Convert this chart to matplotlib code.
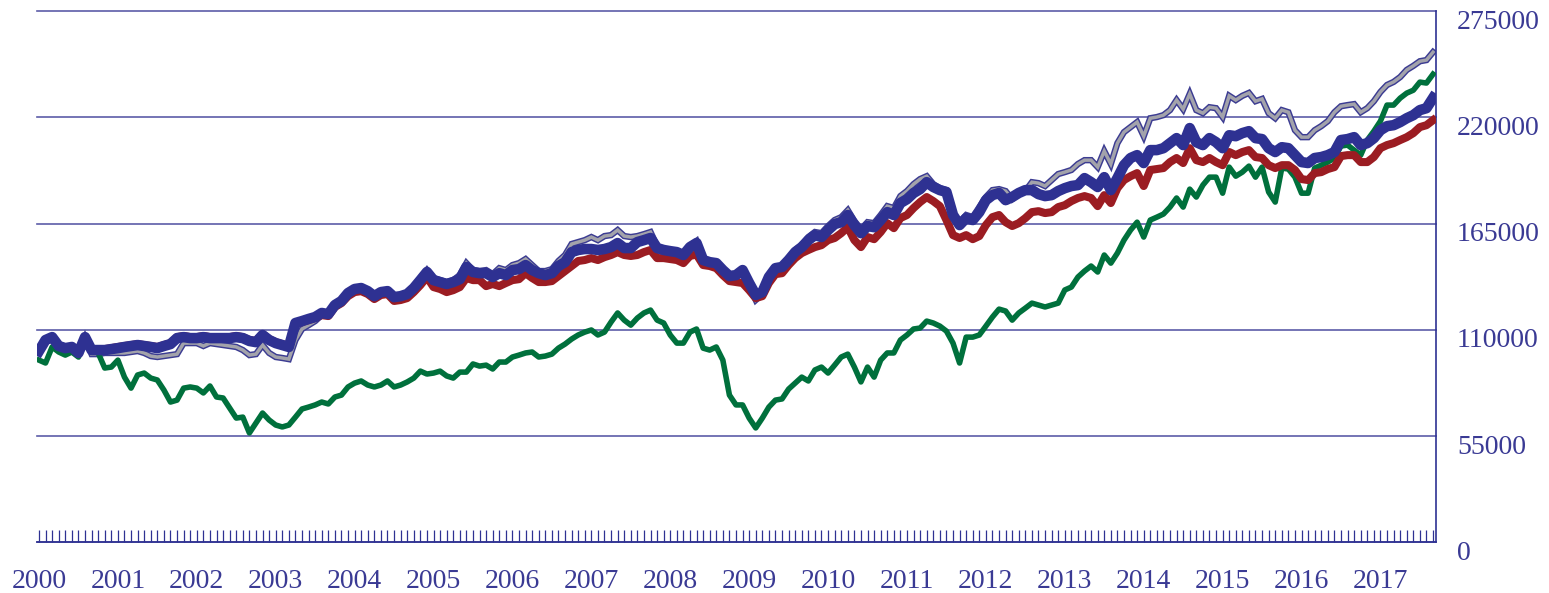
import numpy as np
import matplotlib
matplotlib.use("Agg")
import matplotlib.pyplot as plt
import matplotlib.patheffects as pe

# monthly values (thousands), Jan 2000 .. Sep 2017
green = [94.3, 92.8, 101.1, 98.5, 96.9, 98.5, 95.9, 103.6, 99.5, 98.0,
         90.2, 90.7, 94.3, 85.5, 79.8, 86.6, 87.6, 85.0, 84.0, 78.8,
         72.6, 73.6, 79.8, 80.4, 79.8, 77.3, 80.9, 75.2, 74.7, 69.5,
         64.3, 64.8, 56.6, 61.7, 66.9, 63.3, 60.7, 59.7, 60.7, 64.8,
         69.0, 70.0, 71.1, 72.6, 71.6, 75.2, 76.2, 80.4, 82.4, 83.5,
         81.4, 80.4, 81.4, 83.5, 80.4, 81.4, 83.0, 85.0, 88.6, 87.1,
         87.6, 88.6, 86.1, 85.0, 88.1, 88.1, 92.3, 91.2, 91.7, 89.7,
         93.3, 93.3, 95.9, 96.9, 98.0, 98.5, 95.9, 96.4, 97.4, 100.5,
         102.6, 105.2, 107.3, 108.8, 109.9, 107.3, 108.8, 114.0, 118.7, 115.0,
         112.4, 116.1, 118.7, 120.2, 115.0, 113.5, 107.3, 103.1, 103.1, 108.8,
         110.4, 100.5, 99.5, 101.1, 94.3, 76.2, 71.1, 71.1, 64.3, 59.2,
         64.3, 70.0, 73.6, 74.2, 79.3, 82.4, 85.5, 83.5, 89.2, 90.7,
         87.6, 91.7, 95.9, 97.4, 90.7, 83.0, 90.7, 85.5, 94.3, 98.0,
         98.0, 104.7, 107.3, 110.4, 110.9, 114.5, 113.5, 111.9, 109.3, 103.1,
         92.8, 106.2, 106.2, 107.3, 111.9, 116.6, 120.7, 119.7, 115.0, 118.7,
         121.2, 123.8, 122.8, 121.8, 122.8, 123.8, 130.6, 132.1, 137.3, 140.4,
         143.0, 139.9, 148.7, 144.5, 149.7, 156.4, 161.6, 165.7, 158.0, 166.8,
         168.3, 169.9, 173.5, 178.2, 173.5, 182.8, 178.7, 184.9, 189.0, 189.0,
         180.7, 194.2, 189.5, 191.6, 194.7, 189.0, 194.2, 181.3, 176.1, 193.7,
         193.2, 189.0, 180.7, 180.7, 193.7, 195.2, 196.8, 198.9, 205.1, 205.6,
         203.0, 200.4, 208.2, 212.8, 218.0, 226.3, 226.3, 229.9, 232.5, 234.0,
         238.2, 237.7, 242.3]

blue = [99.0, 104.7, 106.2, 101.6, 100.5, 101.1, 98.0, 106.2, 99.5, 99.5,
        99.5, 100.0, 100.5, 101.1, 101.6, 102.1, 101.6, 101.1, 100.5, 101.6,
        102.6, 105.7, 106.2, 105.7, 105.7, 106.2, 105.7, 105.7, 105.7, 105.7,
        106.2, 105.7, 104.2, 103.6, 107.3, 104.7, 103.1, 102.1, 101.1, 113.5,
        114.5, 115.6, 116.6, 118.7, 118.1, 122.8, 124.9, 129.0, 131.1, 131.6,
        130.0, 127.4, 129.5, 130.0, 126.9, 127.4, 128.5, 131.6, 135.7, 139.9,
        135.7, 134.7, 133.7, 134.7, 136.2, 142.5, 139.9, 139.3, 139.3, 137.3,
        139.3, 138.3, 140.9, 141.4, 143.5, 140.9, 139.3, 138.3, 139.3, 143.0,
        145.0, 150.2, 151.3, 151.8, 151.8, 151.3, 151.8, 152.8, 154.9, 152.3,
        152.3, 155.4, 156.4, 157.5, 152.3, 151.3, 150.7, 150.2, 148.7, 152.8,
        154.9, 146.1, 145.0, 144.5, 140.9, 137.8, 138.3, 140.9, 134.2, 128.0,
        129.5, 137.3, 141.9, 142.5, 146.1, 150.2, 152.8, 156.4, 159.0, 158.0,
        161.6, 164.7, 165.7, 169.4, 164.2, 160.0, 163.7, 163.1, 166.8, 170.9,
        169.4, 175.6, 177.6, 180.8, 182.8, 186.4, 183.9, 182.3, 181.3, 169.4,
        164.2, 167.8, 166.8, 170.9, 177.1, 179.7, 180.8, 177.1, 178.7, 180.8,
        182.3, 182.3, 180.2, 179.2, 179.7, 181.8, 183.3, 184.4, 184.9, 188.5,
        186.4, 183.9, 189.0, 182.3, 188.5, 195.2, 198.9, 200.4, 196.3, 203.0,
        203.0, 204.0, 206.6, 209.2, 205.6, 214.4, 207.1, 205.6, 209.2, 207.1,
        204.0, 210.7, 210.2, 211.8, 212.8, 209.2, 208.7, 204.0, 202.0, 204.5,
        204.0, 200.4, 196.8, 196.3, 198.9, 199.4, 200.4, 202.0, 208.2, 208.7,
        209.7, 205.6, 206.6, 209.2, 213.3, 215.4, 215.9, 217.5, 219.5, 221.1,
        223.7, 224.7, 230.0]

red = [99.0, 104.7, 106.2, 101.6, 100.5, 101.1, 98.0, 106.2, 99.5, 99.5,
       100.0, 100.5, 101.1, 101.6, 102.1, 102.6, 102.1, 101.6, 101.1, 102.1,
       103.1, 106.2, 106.8, 106.2, 106.2, 106.8, 106.2, 106.2, 106.2, 106.2,
       106.8, 106.2, 104.7, 104.2, 107.8, 105.2, 103.6, 102.6, 101.6, 113.0,
       114.0, 115.0, 116.1, 117.6, 117.1, 121.8, 123.8, 127.4, 129.5, 130.0,
       128.5, 125.9, 128.0, 128.5, 124.9, 125.4, 126.4, 129.5, 133.1, 137.3,
       132.1, 131.1, 129.5, 130.5, 132.1, 136.8, 135.7, 135.7, 132.6, 133.7,
       132.6, 134.2, 135.7, 136.2, 139.3, 136.8, 134.7, 134.7, 135.2, 137.8,
       140.4, 143.0, 145.6, 146.1, 147.1, 146.1, 147.6, 148.7, 150.2, 148.7,
       148.2, 148.7, 150.2, 151.3, 147.1, 147.1, 146.6, 146.1, 144.5, 148.2,
       149.0, 143.5, 143.0, 141.9, 138.3, 135.2, 134.7, 134.2, 130.5, 126.4,
       127.4, 134.2, 138.8, 139.3, 143.5, 147.1, 149.7, 151.3, 152.8, 153.8,
       156.4, 157.5, 160.0, 163.1, 156.4, 152.8, 158.0, 156.9, 160.6, 165.2,
       162.6, 167.8, 169.4, 173.0, 176.1, 178.7, 176.6, 174.0, 166.8, 159.0,
       157.5, 159.0, 156.9, 158.5, 164.2, 168.3, 169.4, 165.7, 163.7, 165.2,
       167.8, 170.9, 171.4, 170.4, 170.9, 173.5, 174.5, 176.6, 178.2, 179.2,
       178.2, 174.0, 179.7, 175.6, 183.3, 187.5, 189.5, 191.1, 184.4, 192.7,
       193.2, 193.7, 196.8, 198.9, 196.3, 204.0, 197.8, 196.8, 198.9, 196.8,
       195.2, 202.0, 200.4, 202.0, 203.0, 199.4, 198.9, 195.2, 193.7, 195.2,
       195.2, 192.7, 188.0, 187.5, 191.1, 191.6, 193.2, 194.2, 199.9, 200.4,
       200.4, 196.8, 196.8, 199.4, 204.0, 205.6, 206.6, 208.2, 209.7, 211.8,
       214.9, 215.9, 218.5]

grey = [98.5, 104.2, 105.7, 101.1, 100.0, 100.5, 97.4, 105.7, 97.4, 97.4,
        98.0, 98.0, 98.0, 98.0, 98.5, 99.0, 98.0, 96.4, 95.9, 96.4,
        96.9, 97.4, 103.1, 103.1, 103.1, 101.6, 103.1, 102.6, 102.1, 101.6,
        101.1, 99.5, 96.9, 97.4, 102.1, 98.0, 95.9, 95.4, 94.8, 104.7,
        110.4, 112.4, 114.5, 117.6, 117.6, 122.3, 124.3, 128.5, 130.5, 131.1,
        129.5, 126.9, 129.0, 129.5, 126.4, 126.9, 128.5, 132.1, 136.8, 140.9,
        136.8, 135.7, 134.7, 135.7, 138.3, 144.5, 140.9, 140.4, 140.9, 138.8,
        141.9, 140.9, 143.5, 144.5, 146.6, 143.5, 140.4, 140.4, 141.4, 145.6,
        148.7, 154.4, 155.4, 156.4, 158.0, 156.4, 158.5, 159.0, 161.6, 158.5,
        158.0, 158.5, 159.5, 160.6, 153.3, 151.8, 151.3, 150.7, 149.2, 153.3,
        155.9, 146.6, 145.6, 145.0, 140.9, 137.8, 138.3, 140.4, 132.6, 125.4,
        128.5, 137.3, 141.9, 143.0, 147.1, 151.3, 153.8, 158.0, 160.6, 160.0,
        163.7, 166.8, 168.3, 171.9, 166.3, 162.1, 165.7, 165.2, 169.4, 174.0,
        173.0, 179.2, 181.8, 185.4, 188.0, 189.5, 185.4, 183.3, 182.3, 169.9,
        165.7, 169.4, 168.3, 173.5, 178.7, 182.3, 182.8, 181.8, 177.6, 180.2,
        181.8, 186.4, 185.9, 184.4, 187.5, 190.6, 191.6, 192.7, 195.8, 197.8,
        197.8, 194.2, 202.5, 195.8, 206.6, 212.3, 214.9, 217.5, 210.2, 219.5,
        220.1, 221.1, 223.7, 228.9, 224.2, 232.1, 223.7, 222.1, 225.2, 224.7,
        220.1, 231.1, 228.9, 231.1, 232.6, 228.3, 229.5, 222.1, 219.5, 223.7,
        222.6, 213.3, 209.7, 209.7, 213.3, 215.4, 218.0, 222.6, 225.7, 226.3,
        226.8, 222.6, 224.7, 228.3, 233.1, 236.7, 238.3, 240.8, 244.5, 246.6,
        249.0, 249.6, 253.7]

years = list(range(2000, 2018))
yticks = [0, 55000, 110000, 165000, 220000, 275000]

NAVY = "#2e3192"
TEXT = "#3a3a94"
GRID = "#5c5ca8"

x = np.arange(len(blue))
fig = plt.figure(figsize=(15.49, 5.93), dpi=100)
ax = fig.add_axes([37 / 1549, 50.7 / 593, 1399 / 1549, 531.3 / 593])

for v in yticks:
    ax.axhline(v, color=GRID, lw=1.2, zorder=0, clip_on=False)

ax.plot(x, np.array(grey) * 1000, color="#a3a3ab", lw=2.5, zorder=2,
        solid_joinstyle="miter",
        path_effects=[pe.Stroke(linewidth=4.6, foreground="#3c3c92"), pe.Normal()])
ax.plot(x, np.array(green) * 1000, color="#00703c", lw=4.0, zorder=3)
ax.plot(x, np.array(red) * 1000, color="#9b1c22", lw=5.8, zorder=4)
ax.plot(x, np.array(blue) * 1000, color=NAVY, lw=7.6, zorder=5)

ax.set_xlim(-0.3, len(blue) - 1 + 0.45)
ax.set_ylim(0, 275000)

for s in ["left", "top"]:
    ax.spines[s].set_visible(False)
for s in ["right", "bottom"]:
    ax.spines[s].set_color(NAVY)
    ax.spines[s].set_linewidth(1.2)

ax.set_xticks([12 * k for k in range(len(years))])
ax.set_xticklabels([str(y) for y in years])
ax.set_xticks(x, minor=True)
ax.tick_params(axis="x", which="both", direction="in", length=8.5, width=0.9,
               color=NAVY)
ax.tick_params(axis="x", which="major", pad=19, labelsize=20, labelcolor=TEXT)
for lbl in ax.get_xticklabels():
    lbl.set_family("Liberation Serif")

ax.set_yticks([])
for v in yticks:
    ax.annotate(str(v), xy=(1, v), xycoords=("axes fraction", "data"),
                xytext=(21, -11), textcoords="offset pixels",
                ha="left", va="center", fontsize=20, color=TEXT,
                family="Liberation Serif", annotation_clip=False)

fig.savefig("out.png", dpi=100)
